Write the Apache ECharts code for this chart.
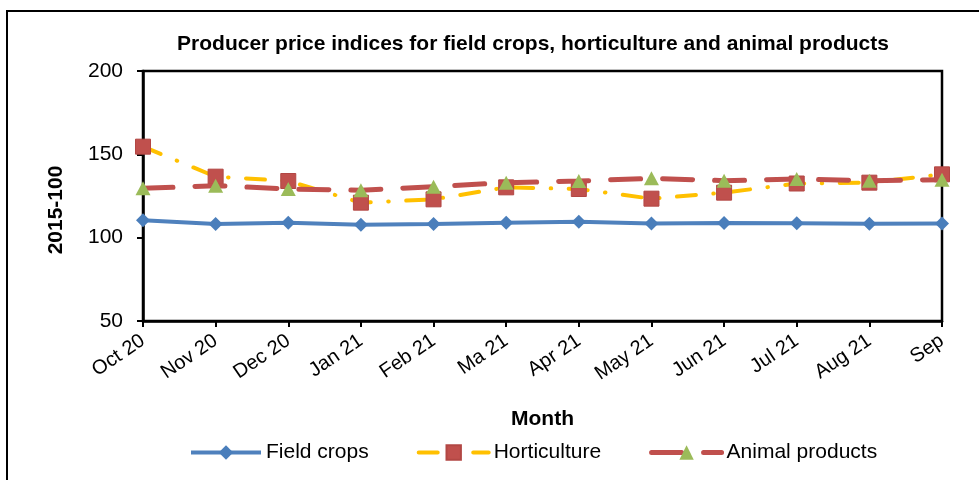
<!DOCTYPE html>
<html>
<head>
<meta charset="utf-8">
<script src="https://cdn.jsdelivr.net/npm/echarts@6/dist/echarts.min.js"></script>
<style>
  html, body { margin: 0; padding: 0; background: #fff; }
  #chart { width: 979px; height: 480px; }
</style>
</head>
<body>
<div id="chart"></div>
<script>
  // values
  const months = ['Oct 20', 'Nov 20', 'Dec 20', 'Jan 21', 'Feb 21', 'Ma 21', 'Apr 21', 'May 21', 'Jun 21', 'Jul 21', 'Aug 21', 'Sep']
  const fieldCrops = [110.5, 108.2, 109, 107.8, 108.2, 109, 109.6, 108.5, 108.8, 108.6, 108.4, 108.5]
  const horticulture = [154.6, 136.6, 134, 121, 123, 130.2, 129.2, 123.4, 127, 132.5, 133, 138]
  const animalProducts = [129.6, 131.2, 129.2, 128.5, 130.6, 133, 134, 135.6, 134.2, 135.2, 134.2, 134.8]

  const chart = echarts.init(document.getElementById('chart'))
  const font = 'Liberation Sans, Arial, sans-serif'

  chart.setOption({
    backgroundColor: '#fff',
    animation: false,
    title: {
      text: 'Producer price indices for field crops, horticulture and animal products',
      left: 528,
      textAlign: 'center',
      top: 29,
      textStyle: { fontFamily: font, fontSize: 21, fontWeight: 'bold', color: '#000' }
    },
    graphic: [
      {
        type: 'rect',
        shape: { x: 7, y: 11, width: 1000, height: 500 },
        style: { fill: 'none', stroke: '#000', lineWidth: 2 },
        z: 0
      },
      {
        type: 'text',
        x: 56,
        y: 210,
        rotation: Math.PI / 2,
        style: {
          text: '2015-100',
          fontFamily: font,
          fontSize: 21,
          fontWeight: 'bold',
          fill: '#000',
          align: 'center',
          verticalAlign: 'middle'
        }
      }
    ],
    legend: {
      left: 184,
      top: 437,
      itemWidth: 70,
      itemHeight: 18,
      itemGap: 48,
      textStyle: { fontFamily: font, fontSize: 21, color: '#000' },
      data: [
        { name: 'Field crops', lineStyle: { width: 4 } },
        { name: 'Horticulture', lineStyle: { width: 4 } },
        { name: 'Animal products', lineStyle: { width: 5 } }
      ]
    },
    grid: {
      left: 143,
      right: 37,
      top: 71,
      bottom: 159,
      show: true,
      borderColor: '#000',
      borderWidth: 2.5
    },
    xAxis: {
      type: 'category',
      data: months,
      boundaryGap: false,
      name: 'Month',
      nameLocation: 'middle',
      nameGap: 88,
      nameTextStyle: { fontFamily: font, fontSize: 21, fontWeight: 'bold', color: '#000' },
      axisLine: { lineStyle: { color: '#000', width: 2.5 } },
      axisTick: { alignWithLabel: true, length: 6, lineStyle: { color: '#000', width: 2 } },
      axisLabel: { rotate: 34, margin: 18, fontFamily: font, fontSize: 20, color: '#000' },
      splitLine: { show: false }
    },
    yAxis: {
      type: 'value',
      min: 50,
      max: 200,
      interval: 50,
      axisLine: { show: true, lineStyle: { color: '#000', width: 2.5 } },
      axisTick: { show: true, length: 6, lineStyle: { color: '#000', width: 2 } },
      axisLabel: { margin: 20, fontFamily: font, fontSize: 21, color: '#000' },
      splitLine: { show: false }
    },
    series: [
      {
        name: 'Field crops',
        type: 'line',
        data: fieldCrops,
        symbol: 'diamond',
        symbolSize: 14,
        lineStyle: { color: '#4F81BD', width: 4 },
        itemStyle: { color: '#4A7EBB' },
        z: 2
      },
      {
        name: 'Horticulture',
        type: 'line',
        data: horticulture,
        symbol: 'rect',
        symbolSize: 15,
        lineStyle: { color: '#FFC000', width: 4, type: [19, 17.5, 0.5, 17.5], cap: 'round' },
        itemStyle: { color: '#C0504D', borderColor: '#B24744', borderWidth: 1 },
        z: 3
      },
      {
        name: 'Animal products',
        type: 'line',
        data: animalProducts,
        symbol: 'triangle',
        symbolSize: [15, 14],
        lineStyle: { color: '#C0504D', width: 5, type: [30, 22], cap: 'round' },
        itemStyle: { color: '#9BBB59' },
        z: 4
      }
    ]
  })
</script>
</body>
</html>
